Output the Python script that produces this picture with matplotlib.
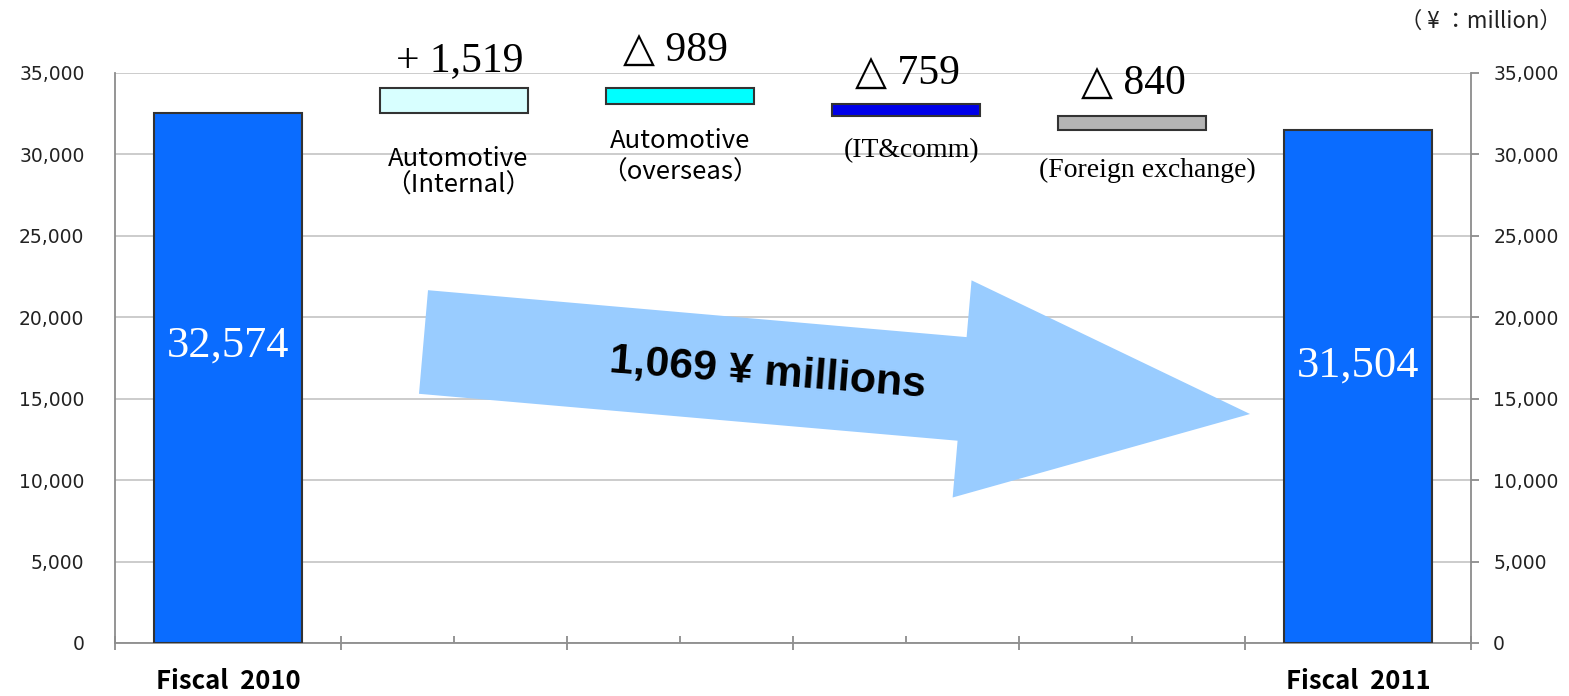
import matplotlib
matplotlib.use("Agg")
import matplotlib.pyplot as plt
from matplotlib.patches import FancyArrow
from matplotlib.ticker import FuncFormatter, MultipleLocator

# ---------------- data ----------------
categories = ["Fiscal  2010", "Automotive\n（Internal）", "Automotive\n（overseas）",
              "(IT&comm)", "(Foreign exchange)", "Fiscal  2011"]
start_total = 32574
end_total = 31504
changes = [1519, -989, -759, -840]
change_total_label = "1,069 ¥ millions"
unit_label = "（ ¥ ：million）"

# ---------------- styles ----------------
total_color = "#0A6CFF"
change_colors = ["#D8FFFF", "#00FFFF", "#0000E8", "#B4B4B4"]
edge_color = "#333333"
serif = ["Liberation Serif", "DejaVu Serif"]
serif_sym = ["Liberation Serif", "DejaVu Sans"]
gothic = ["Noto Sans CJK JP", "DejaVu Sans"]

fig = plt.figure(figsize=(15.69, 6.96), dpi=100)
ax = fig.add_axes([115/1569, 53/696, (1471-115)/1569, (643-73)/696])

n = len(categories)
xs = list(range(n))
bw = 0.655

# total bars
ax.bar([0], [start_total], width=bw, color=total_color, edgecolor=edge_color, linewidth=1.5, zorder=3)
ax.bar([n-1], [end_total], width=bw, color=total_color, edgecolor=edge_color, linewidth=1.5, zorder=3)

# change bars (waterfall)
running = start_total
val_offsets = [(4, 19.5), (-3, 26.5), (1, 22), (1, 23.5)]   # points, from bar top
cat_offsets = [(3, -43), (0, -38), (4, -25), (11, -29)]       # points, from bar bottom
cat_linespacing = [1.05, 1.3, 1.0, 1.0]
for i, c in enumerate(changes):
    lo = min(running, running + c)
    hi = max(running, running + c)
    x = i + 1
    ax.bar([x], [hi - lo], bottom=[lo], width=bw, color=change_colors[i],
           edgecolor=edge_color, linewidth=1.5, zorder=3)
    lab = f"+ {c:,}" if c > 0 else f"△ {abs(c):,}"
    ax.annotate(lab, xy=(x, hi), xytext=val_offsets[i], textcoords="offset points",
                ha="center", va="center", fontsize=30, family=serif_sym, zorder=5)
    is_serif = categories[x].startswith("(")
    ax.annotate(categories[x], xy=(x, lo), xytext=cat_offsets[i], textcoords="offset points",
                ha="center", va="center", fontsize=(20 if is_serif else 18.5),
                family=(serif if is_serif else gothic), linespacing=cat_linespacing[i], zorder=5)
    running += c

# total values inside bars
ax.text(0, start_total * 0.56, f"{start_total:,}", ha="center", va="center",
        color="white", fontsize=32, family=serif, zorder=5)
ax.text(n-1, end_total * 0.54, f"{end_total:,}", ha="center", va="center",
        color="white", fontsize=32, family=serif, zorder=5)

# axes
ax.set_xlim(-0.5, n - 0.5)
ax.set_ylim(0, 35000)
ax.yaxis.set_major_locator(MultipleLocator(5000))
fmt = FuncFormatter(lambda v, p: f"{int(v):,}")
ax.yaxis.set_major_formatter(fmt)
ax.grid(axis="y", color="#C8C8C8", linewidth=1.3, zorder=0)
ax.set_axisbelow(True)
for s in ["top", "right"]:
    ax.spines[s].set_visible(False)
for s in ["left", "bottom"]:
    ax.spines[s].set_color("#8C8C8C")
    ax.spines[s].set_linewidth(1.3)
ax.tick_params(axis="y", length=0, pad=22, labelsize=13.5, labelcolor="#222222")
for t in ax.get_yticklabels():
    t.set_family("DejaVu Sans")

# x ticks: major at boundaries, minor at centers with labels
ax.set_xticks([i - 0.5 for i in range(n + 1)])
ax.set_xticklabels([""] * (n + 1))
ax.set_xticks(xs, minor=True)
ax.set_xticklabels([categories[0]] + [""] * (n - 2) + [categories[-1]], minor=True)
ax.tick_params(axis="x", which="major", direction="inout", length=10, width=1.3, color="#8C8C8C")
ax.tick_params(axis="x", which="minor", direction="in", length=5, width=1.3, color="#8C8C8C",
               pad=18, labelsize=18.5)
for t in ax.get_xticklabels(minor=True):
    t.set_family(gothic)
    t.set_fontweight("bold")

# right axis
ax2 = ax.twinx()
ax2.set_ylim(ax.get_ylim())
ax2.yaxis.set_major_locator(MultipleLocator(5000))
ax2.yaxis.set_major_formatter(fmt)
for s in ["top", "left", "bottom"]:
    ax2.spines[s].set_visible(False)
ax2.spines["right"].set_color("#8C8C8C")
ax2.spines["right"].set_linewidth(1.3)
ax2.tick_params(axis="y", length=6, width=1.3, color="#8C8C8C", pad=10, labelsize=13.5,
                labelcolor="#222222")
for t in ax2.get_yticklabels():
    t.set_family("DejaVu Sans")

# big arrow (figure inches)
arrow = FancyArrow(4.235, 3.54, 8.265, -0.72, width=1.04, head_width=2.18,
                   head_length=2.89, length_includes_head=True,
                   transform=fig.dpi_scale_trans, color="#99CCFF", linewidth=0, zorder=10)
fig.patches.append(arrow)
fig.text(7.68 / 15.69, 1 - 373 / 696, change_total_label, rotation=-4.5, ha="center",
         va="center", fontsize=31, fontweight="bold", family=["Liberation Sans", "DejaVu Sans"],
         zorder=11)

fig.text(1562 / 1569, 1 - 21 / 696, unit_label, ha="right", va="center", fontsize=16,
         family=gothic, color="#222222")

fig.savefig("out.png", dpi=100)
